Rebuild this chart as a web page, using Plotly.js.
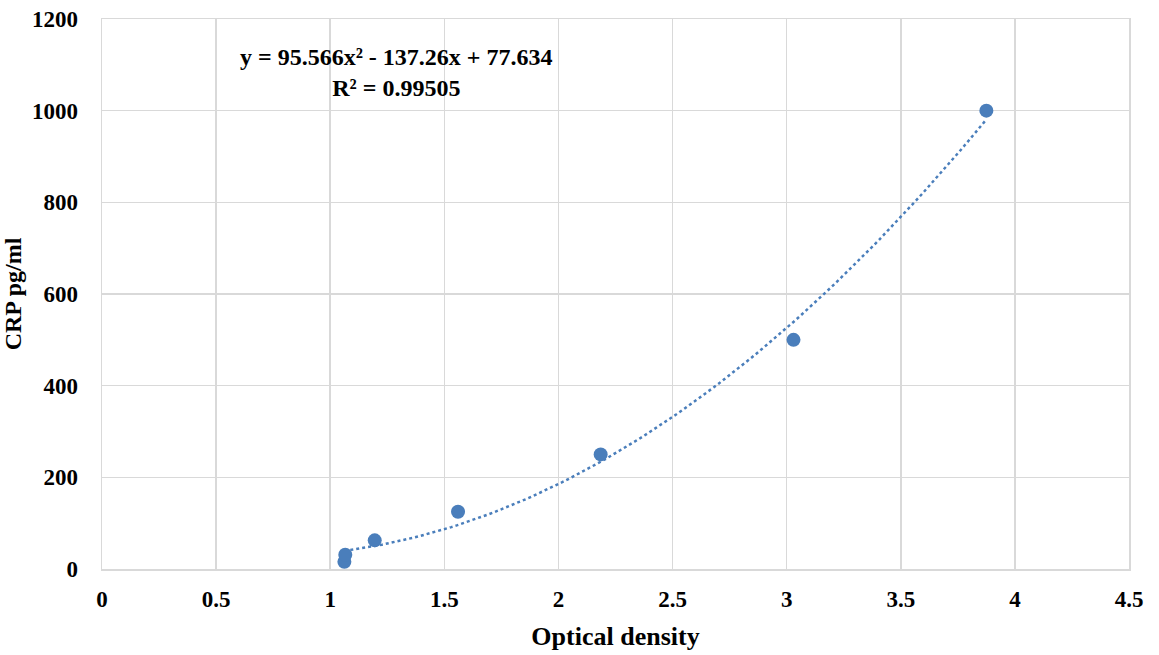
<!DOCTYPE html>
<html>
<head>
<meta charset="utf-8">
<script src="https://cdn.plot.ly/plotly-3.0.1.min.js"></script>
<style>html,body{margin:0;padding:0;background:#fff;}#chart{width:1159px;height:655px;}</style>
</head>
<body>
<div id="chart"></div>
<script>
// Data
const opticalDensity = [1.062, 1.066, 1.195, 1.560, 2.185, 3.030, 3.875];
const crpValues = [15.6, 31.25, 62.5, 125, 250, 500, 1000];
// Trendline coefficients shown on the chart (a, b, c for a*x^2 + b*x + c)
const trendCoefs = [95.566, -137.26, 77.634];
const rSquared = "0.99505";
const xTicks = [0, 0.5, 1, 1.5, 2, 2.5, 3, 3.5, 4, 4.5];
const xTickText = ["0", "0.5", "1", "1.5", "2", "2.5", "3", "3.5", "4", "4.5"];
const yTicks = [0, 200, 400, 600, 800, 1000, 1200];

const xmin = Math.min(...opticalDensity), xmax = Math.max(...opticalDensity);
const tx = [], ty = [];
const nSteps = 120;
for (let i = 0; i <= nSteps; i++) {
  const x = xmin + (xmax - xmin) * i / nSteps;
  tx.push(x);
  ty.push(trendCoefs[0] * x * x + trendCoefs[1] * x + trendCoefs[2]);
}

const color = '#4A7EBB';
const font = 'Liberation Serif, Times New Roman, serif';

const traces = [
  {x: tx, y: ty, mode: 'lines', type: 'scatter',
   line: {color: color, width: 2.5, dash: 'dot'}, hoverinfo: 'skip', showlegend: false},
  {x: opticalDensity, y: crpValues, mode: 'markers', type: 'scatter',
   marker: {color: color, size: 14}, showlegend: false}
];

const layout = {
  width: 1159, height: 655,
  margin: {l: 102, r: 30, t: 19, b: 86},
  paper_bgcolor: '#fff', plot_bgcolor: '#fff',
  font: {family: font, color: '#000'},
  xaxis: {
    range: [0, 4.5], tickvals: xTicks, ticktext: xTickText,
    showgrid: true, gridcolor: '#d9d9d9', gridwidth: 1.5,
    showline: true, linecolor: '#d9d9d9', linewidth: 1.5, mirror: true,
    zeroline: false, ticks: '', ticklabelstandoff: 9,
    tickfont: {family: font, size: 23, color: '#000', weight: 'bold'},
    title: {text: '<b>Optical density</b>', font: {family: font, size: 26, color: '#000'}, standoff: 15}
  },
  yaxis: {
    range: [0, 1200], tickvals: yTicks,
    showgrid: true, gridcolor: '#d9d9d9', gridwidth: 1.5,
    showline: true, linecolor: '#d9d9d9', linewidth: 1.5, mirror: true,
    zeroline: false, ticks: '', ticklabelstandoff: 18,
    tickfont: {family: font, size: 23, color: '#000', weight: 'bold'},
    title: {text: '<b>CRP pg/ml</b>', font: {family: font, size: 24, color: '#000'}, standoff: 5}
  },
  annotations: [{
    xref: 'paper', yref: 'paper', x: (396 - 102) / 1027, y: (569 - 73) / 550,
    xanchor: 'center', yanchor: 'middle', align: 'center', showarrow: false,
    text: '<b>y = ' + trendCoefs[0] + 'x² - ' + Math.abs(trendCoefs[1]) + 'x + ' + trendCoefs[2] + '<br>R² = ' + rSquared + '</b>',
    font: {family: font, size: 24, color: '#000'}
  }]
};

Plotly.newPlot('chart', traces, layout, {displayModeBar: false, staticPlot: true});
</script>
</body>
</html>
